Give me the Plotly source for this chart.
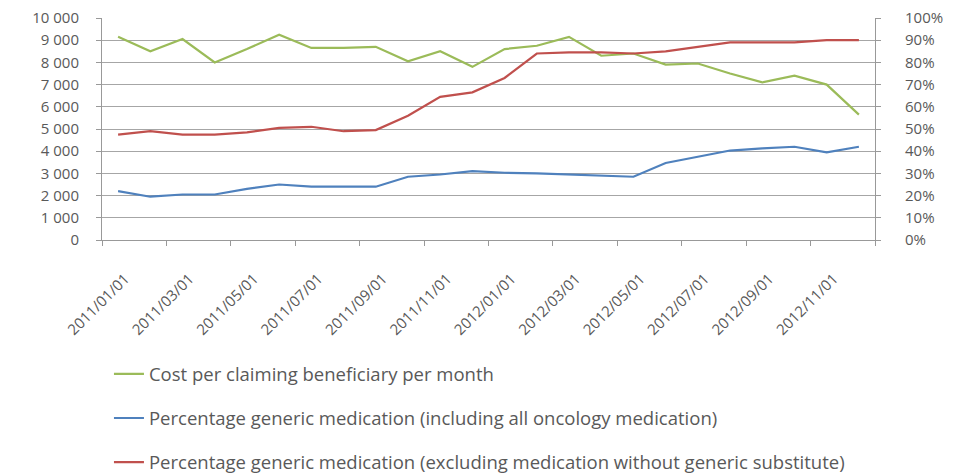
import plotly.graph_objects as go

months = ["2011/%02d/01" % m for m in range(1, 13)] + ["2012/%02d/01" % m for m in range(1, 13)]
x_idx = list(range(len(months)))
tick_pos = x_idx[::2]
tick_labels = months[::2]

cost = [9150, 8500, 9050, 8000, 8600, 9250, 8650, 8650, 8700, 8050, 8500, 7800,
        8600, 8750, 9150, 8300, 8400, 7900, 7950, 7500, 7100, 7400, 7000, 5650]
pct_incl = [0.22, 0.195, 0.205, 0.205, 0.23, 0.25, 0.24, 0.24, 0.24, 0.285, 0.295, 0.31,
            0.303, 0.30, 0.295, 0.29, 0.285, 0.347, 0.375, 0.403, 0.413, 0.42, 0.395, 0.42]
pct_excl = [0.475, 0.49, 0.475, 0.475, 0.485, 0.505, 0.51, 0.49, 0.495, 0.56, 0.645, 0.665,
            0.73, 0.84, 0.845, 0.845, 0.84, 0.85, 0.87, 0.89, 0.89, 0.89, 0.90, 0.90]

names = ["Cost per claiming beneficiary per month",
         "Percentage generic medication (including all oncology medication)",
         "Percentage generic medication (excluding medication without generic substitute)"]
colors = ["#9BBB59", "#4F81BD", "#C0504D"]

fig = go.Figure()
fig.add_trace(go.Scatter(x=x_idx, y=pct_excl, name=names[2], mode="lines", yaxis="y2",
                         line=dict(color=colors[2], width=2.2), legendgroup="c",
                         legendrank=3))
fig.add_trace(go.Scatter(x=x_idx, y=pct_incl, name=names[1], mode="lines", yaxis="y2",
                         line=dict(color=colors[1], width=2.2), legendgroup="b",
                         legendrank=2))
fig.add_trace(go.Scatter(x=x_idx, y=cost, name=names[0], mode="lines",
                         line=dict(color=colors[0], width=2.2), legendgroup="a",
                         legendrank=1))

txt = "#595959"
axis_font = dict(family="Open Sans, sans-serif", size=15, color=txt)
fig.update_layout(
    width=946, height=465,
    margin=dict(l=94, r=79, t=10, b=233, autoexpand=False),
    paper_bgcolor="white", plot_bgcolor="white",
    separators=". ",
    font=dict(family="Open Sans, sans-serif", size=15, color=txt),
    showlegend=True,
    legend=dict(x=0.009, y=-0.52, xanchor="left", yanchor="top",
                orientation="v", traceorder="grouped", tracegroupgap=17,
                font=dict(family="Open Sans, sans-serif", size=18.5, color=txt),
                bgcolor="rgba(0,0,0,0)"),
    xaxis=dict(tickmode="array", tickvals=tick_pos, ticktext=tick_labels,
               ticks="", tickangle=-45, tickfont=axis_font, ticklabelstandoff=23,
               ticklabelshift=7, ticklabeloverflow="allow",
               minor=dict(ticks="outside", tick0=-0.5, dtick=2, ticklen=5,
                          tickcolor="#999999", showgrid=False),
               showline=True, linecolor="#999999", linewidth=1,
               showgrid=False, range=[-0.5, 23.5], zeroline=False),
    yaxis=dict(range=[0, 10000], dtick=1000, tickformat=",d", tickfont=axis_font,
               showline=True, linecolor="#999999", ticks="outside", ticklen=5,
               ticklabelstandoff=14, ticklabeloverflow="allow",
               tickcolor="#999999", gridcolor="#A6A6A6", gridwidth=1, zeroline=False),
    yaxis2=dict(range=[0, 1], dtick=0.1, tickformat=".0%", overlaying="y", side="right",
                tickfont=axis_font, ticklabelstandoff=21, ticklabeloverflow="allow",
                showline=True, linecolor="#999999", ticks="outside", ticklen=5,
                tickcolor="#999999", showgrid=False, zeroline=False),
)

fig.write_html("out.html")
